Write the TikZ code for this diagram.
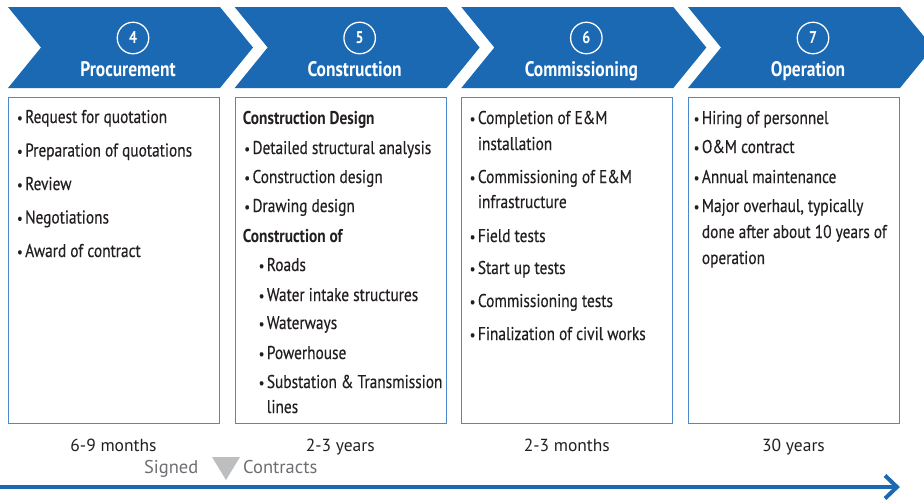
\documentclass[tikz,border=0pt]{standalone}
\usepackage{fontspec}
\setmainfont{PT Sans}
\newfontfamily\cond[FakeStretch=0.83]{PT Sans}
\newfontfamily\condtxt[FakeStretch=0.83,FakeBold=0.35]{PT Sans}
\usetikzlibrary{arrows.meta}
\definecolor{chev}{HTML}{1B68B3}
\definecolor{boxc}{HTML}{4A89CC}
\definecolor{txt}{HTML}{231F20}
\definecolor{tri}{HTML}{BCBEC0}
\definecolor{gtxt}{HTML}{6D6E71}
\newcounter{lnc}
\newcommand\mybul{\llap{{\fontsize{15}{15}\selectfont\textbullet}\hspace{2.5pt}}}
\tikzset{
 chevron/.style={fill=chev},
 stepnum/.style={circle, draw=white, line width=1.3pt, minimum size=31.5pt, inner sep=0pt, text=white, font=\cond\bfseries\fontsize{17}{17}\selectfont},
 steptitle/.style={anchor=base, text=white, inner sep=0pt, font=\cond\bfseries\fontsize{21}{24}\selectfont},
 panel/.style={draw=boxc, line width=0.9pt, minimum width=211pt, minimum height=326pt, anchor=north west, inner sep=0pt},
 itemtxt/.style={anchor=base west, inner sep=0pt, text=txt, font=\condtxt\fontsize{18.5}{20}\selectfont},
 headtxt/.style={itemtxt, font=\cond\bfseries\fontsize{18.5}{20}\selectfont},
 durtxt/.style={anchor=base, inner sep=0pt, text=txt, font=\fontsize{17.5}{20}\selectfont},
 signtxt/.style={inner sep=0pt, text=gtxt, font=\fontsize{18.5}{20}\selectfont},
 timeline/.style={draw=chev, line width=4pt},
}
\newcommand\itm[3]{\stepcounter{lnc}\node[itemtxt] (ln\thelnc) at (#1,#2) {#3};}
\newcommand\hed[3]{\stepcounter{lnc}\node[headtxt] (ln\thelnc) at (#1,#2) {#3};}
\begin{document}
\begin{tikzpicture}[x=1pt,y=-1pt]
\useasboundingbox (0,0) rectangle (924,499);
\clip (0,0) rectangle (924,499);
% chevrons, numbers, titles, panels
\foreach \k/\n/\t in {0/4/Procurement,1/5/Construction,2/6/Commissioning,3/7/Operation}{
  \pgfmathsetmacro\L{8+226.6667*\k}
  \fill[chevron] (\L,7) -- (\L+212,7) -- (\L+245,47.5) -- (\L+212,88) -- (\L,88) -- (\L+33,47.5) -- cycle;
  \node[stepnum] (num\n) at (\L+125,38) {\n};
  \node[steptitle] (title\n) at (\L+120,76) {\t};
  \node[panel] (panel\n) at (\L,97) {};
}
% panel 1
\itm{25}{123}{\mybul Request for quotation}
\itm{25}{156.5}{\mybul Preparation of quotations}
\itm{25}{190}{\mybul Review}
\itm{25}{223.5}{\mybul Negotiations}
\itm{25}{257}{\mybul Award of contract}
% panel 2
\hed{242.7}{124}{Construction Design}
\itm{252.3}{154}{\mybul Detailed structural analysis}
\itm{252.3}{183}{\mybul Construction design}
\itm{252.3}{212}{\mybul Drawing design}
\hed{242.7}{242}{Construction of}
\itm{266.7}{271}{\mybul Roads}
\itm{266.7}{301}{\mybul Water intake structures}
\itm{266.7}{329}{\mybul Waterways}
\itm{266.7}{359}{\mybul Powerhouse}
\itm{266.7}{388}{\mybul Substation \& Transmission}
\itm{266.7}{413}{lines}
% panel 3
\itm{477.7}{124}{\mybul Completion of E\&M}
\itm{477.7}{150}{installation}
\itm{477.7}{183}{\mybul Commissioning of E\&M}
\itm{477.7}{208}{infrastructure}
\itm{477.7}{242}{\mybul Field tests}
\itm{477.7}{274}{\mybul Start up tests}
\itm{477.7}{307}{\mybul Commissioning tests}
\itm{477.7}{340}{\mybul Finalization of civil works}
% panel 4
\itm{701.7}{124}{\mybul Hiring of personnel}
\itm{701.7}{153}{\mybul O\&M contract}
\itm{701.7}{183}{\mybul Annual maintenance}
\itm{701.7}{212}{\mybul Major overhaul, typically}
\itm{701.7}{238}{done after about 10 years of}
\itm{701.7}{264}{operation}
% durations
\node[durtxt] (dur4) at (113.5,451.7) {6-9 months};
\node[durtxt] (dur5) at (340.2,451.7) {2-3 years};
\node[durtxt] (dur6) at (566.8,451.7) {2-3 months};
\node[durtxt] (dur7) at (793.5,451.7) {30 years};
% signed contracts
\fill[tri] (212,457) -- (240,457) -- (226,480) -- cycle;
\node[signtxt, anchor=base east] (signed) at (198.5,473.5) {Signed};
\node[signtxt, anchor=base west] (contracts) at (243,473.5) {Contracts};
% timeline
\coordinate (tl0) at (-2,487);
\coordinate (tl1) at (897,487);
\draw[timeline] (tl0) -- (tl1);
\draw[timeline, miter limit=10] (885,475.5) -- (tl1) -- (885,498.5);
\end{tikzpicture}
\end{document}
